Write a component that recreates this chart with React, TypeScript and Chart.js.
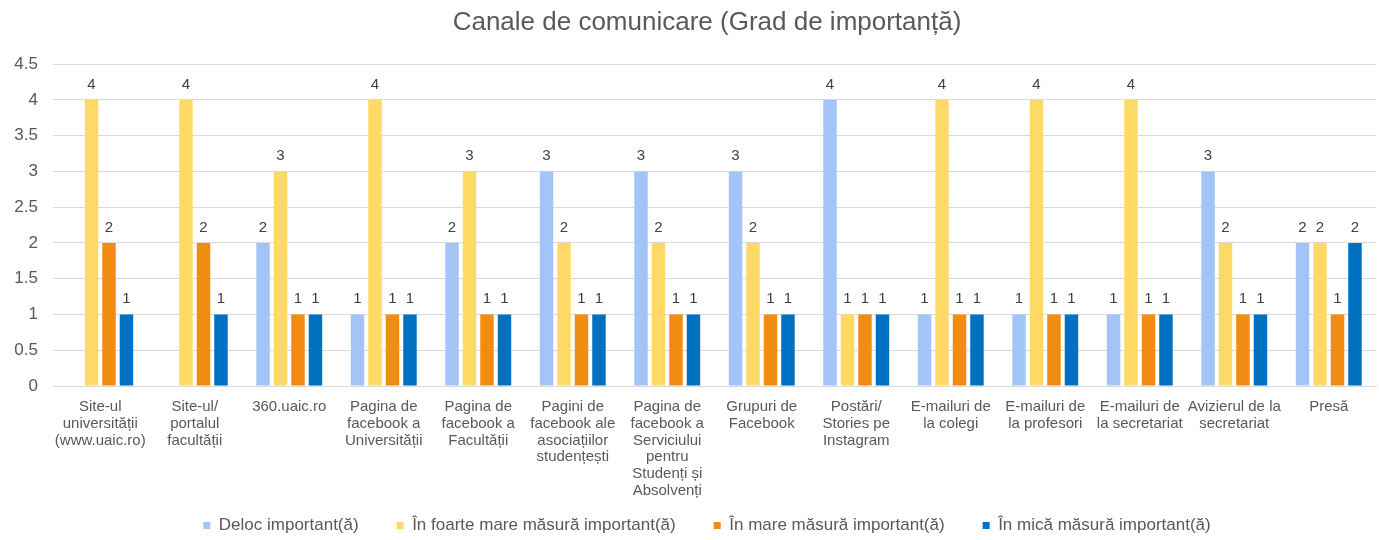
import React, { useEffect, useRef } from "react";
import { Chart, registerables } from "chart.js";

Chart.register(...registerables);

const TITLE = "Canale de comunicare (Grad de importanță)";

const categories: string[][] = [
  ["Site-ul", "universității", "(www.uaic.ro)"],
  ["Site-ul/", "portalul", "facultății"],
  ["360.uaic.ro"],
  ["Pagina de", "facebook a", "Universității"],
  ["Pagina de", "facebook a", "Facultății"],
  ["Pagini de", "facebook ale", "asociațiilor", "studențești"],
  ["Pagina de", "facebook a", "Serviciului", "pentru", "Studenți și", "Absolvenți"],
  ["Grupuri de", "Facebook"],
  ["Postări/", "Stories pe", "Instagram"],
  ["E-mailuri de", "la colegi"],
  ["E-mailuri de", "la profesori"],
  ["E-mailuri de", "la secretariat"],
  ["Avizierul de la", "secretariat"],
  ["Presă"],
];

const seriesNames = [
  "Deloc important(ă)",
  "În foarte mare măsură important(ă)",
  "În mare măsură important(ă)",
  "În mică măsură important(ă)",
];

const delocImportant: (number | null)[] = [null, null, 2, 1, 2, 3, 3, 3, 4, 1, 1, 1, 3, 2];
const foarteMareMasura: (number | null)[] = [4, 4, 3, 4, 3, 2, 2, 2, 1, 4, 4, 4, 2, 2];
const mareMasura: (number | null)[] = [2, 2, 1, 1, 1, 1, 1, 1, 1, 1, 1, 1, 1, 1];
const micaMasura: (number | null)[] = [1, 1, 1, 1, 1, 1, 1, 1, 1, 1, 1, 1, 1, 2];

const yTicks = [0, 0.5, 1, 1.5, 2, 2.5, 3, 3.5, 4, 4.5];

const colors = ["#a3c4f6", "#ffd966", "#f08c12", "#0070c0"];

const FONT = "'Liberation Sans', Arial, sans-serif";

const dataLabelPlugin = {
  id: "dataLabels",
  afterDatasetsDraw(chart: any) {
    const ctx = chart.ctx;
    ctx.save();
    ctx.font = `15px ${FONT}`;
    ctx.fillStyle = "#404040";
    ctx.textAlign = "center";
    ctx.textBaseline = "bottom";
    chart.data.datasets.forEach((ds: any, di: number) => {
      const meta = chart.getDatasetMeta(di);
      meta.data.forEach((bar: any, i: number) => {
        const v = ds.data[i];
        if (v === null || v === undefined) return;
        ctx.fillText(String(v), bar.x, bar.y - 8);
      });
    });
    ctx.restore();
  },
};

// Centre title and legend over the plot area, as in the reference.
const shiftBlocksPlugin = {
  id: "shiftBlocks",
  afterLayout(chart: any) {
    const dx = 15;
    const t = chart.titleBlock;
    if (t) {
      t.left += dx;
      t.right += dx;
    }
    const l = chart.legend;
    if (l) {
      l.left += dx;
      l.right += dx;
      const dy = 479 - l.top;
      l.top += dy;
      l.bottom += dy;
    }
  },
};

export default function App() {
  const ref = useRef<HTMLCanvasElement | null>(null);

  useEffect(() => {
    document.body.style.margin = "0";
    const canvas = ref.current;
    if (!canvas) return;
    const seriesData = [delocImportant, foarteMareMasura, mareMasura, micaMasura];
    const chart = new Chart(canvas, {
      type: "bar",
      data: {
        labels: categories,
        datasets: seriesNames.map((name, i) => ({
          label: name,
          data: seriesData[i],
          backgroundColor: colors[i],
          borderWidth: 0,
          barPercentage: 0.77,
          categoryPercentage: 0.74,
        })),
      },
      options: {
        animation: false,
        responsive: false,
        devicePixelRatio: 1,
        layout: { padding: { left: 8, right: 3, top: 0, bottom: -26 } },
        plugins: {
          title: {
            display: true,
            text: TITLE,
            color: "#595959",
            font: { family: FONT, size: 26, weight: "normal" },
            padding: { top: 7, bottom: 26 },
          },
          legend: {
            position: "bottom",
            labels: {
              color: "#595959",
              font: { family: FONT, size: 17 },
              boxWidth: 7,
              boxHeight: 7,
              padding: 38,
            },
          },
          tooltip: { enabled: false },
        },
        scales: {
          x: {
            afterFit: (axis: any) => {
              axis.height = 115;
            },
            grid: { display: false, drawTicks: false },
            border: { display: true, color: "#d9d9d9", width: 1 },
            ticks: {
              color: "#595959",
              font: { family: FONT, size: 15, lineHeight: 1.13 },
              maxRotation: 0,
              minRotation: 0,
              autoSkip: false,
              padding: 12,
            },
          },
          y: {
            min: 0,
            max: 4.5,
            afterBuildTicks: (axis: any) => {
              axis.ticks = yTicks.map((v) => ({ value: v }));
            },
            afterFit: (axis: any) => {
              axis.width = 45;
            },
            grid: { color: "#d9d9d9", lineWidth: 1, drawTicks: false },
            border: { display: false },
            ticks: {
              color: "#595959",
              font: { family: FONT, size: 17 },
              padding: 15,
              callback: (v: any) => String(v),
            },
          },
        },
      },
      plugins: [dataLabelPlugin, shiftBlocksPlugin],
    });
    return () => chart.destroy();
  }, []);

  return <canvas ref={ref} width={1379} height={540} style={{ display: "block" }} />;
}
